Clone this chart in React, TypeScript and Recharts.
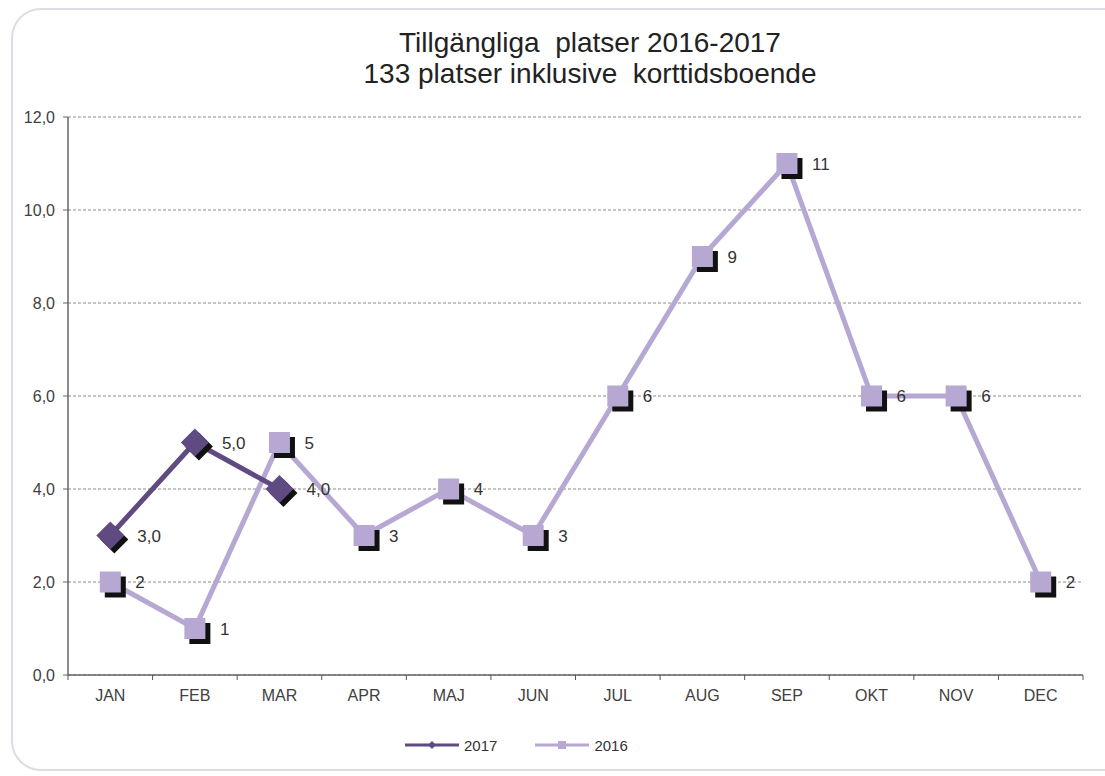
import React from "react";
import {
  LineChart,
  Line,
  XAxis,
  YAxis,
  CartesianGrid,
} from "recharts";

const months = ["JAN", "FEB", "MAR", "APR", "MAJ", "JUN", "JUL", "AUG", "SEP", "OKT", "NOV", "DEC"];
const values2017: (number | null)[] = [3, 5, 4, null, null, null, null, null, null, null, null, null];
const values2016: number[] = [2, 1, 5, 3, 4, 3, 6, 9, 11, 6, 6, 2];
const yTicks = [0, 2, 4, 6, 8, 10, 12];
const titleLines = ["Tillgängliga  platser 2016-2017", "133 platser inklusive  korttidsboende"];
const seriesNames = ["2017", "2016"];

const data = months.map((m, i) => ({ month: m, y2017: values2017[i], y2016: values2016[i] }));

const W = 1105;
const H = 776;
const M = { top: 117, right: 22, bottom: 71, left: 0 };
const YW = 68;
const plotW = W - M.left - M.right - YW;
const STEP = plotW / months.length;

const C2017 = "#5f4b82";
const C2016 = "#b6a8d2";
const SHADOW = "#111111";
const FONT = "'Liberation Sans', Arial, sans-serif";

const fmt1 = (v: number) => v.toFixed(1).replace(".", ",");

const XTick = (props: any) => {
  const { x, y, payload, index } = props;
  const last = index === months.length - 1;
  return (
    <g>
      <line x1={x - STEP / 2} x2={x - STEP / 2} y1={y} y2={y + 5} stroke="#555" strokeWidth={1} />
      {last && <line x1={x + STEP / 2} x2={x + STEP / 2} y1={y} y2={y + 5} stroke="#555" strokeWidth={1} />}
      <text x={x} y={y + 26} textAnchor="middle" fontSize={16} fill="#404040" fontFamily={FONT}>
        {payload.value}
      </text>
    </g>
  );
};

const SquareDot = (props: any) => {
  const { cx, cy, index } = props;
  if (cx == null || cy == null) return <g key={`s${index}`} />;
  const s = 21;
  return (
    <g key={`s${index}`}>
      <rect x={cx - s / 2 + 5} y={cy - s / 2 + 5} width={s} height={s} fill={SHADOW} />
      <rect x={cx - s / 2} y={cy - s / 2} width={s} height={s} fill={C2016} />
    </g>
  );
};

const DiamondDot = (props: any) => {
  const { cx, cy, index } = props;
  if (cx == null || cy == null) return <g key={`d${index}`} />;
  const r = 14;
  const pts = (dx: number, dy: number) =>
    `${cx + dx},${cy + dy - r} ${cx + dx + r},${cy + dy} ${cx + dx},${cy + dy + r} ${cx + dx - r},${cy + dy}`;
  return (
    <g key={`d${index}`}>
      <polygon points={pts(4, 4)} fill={SHADOW} />
      <polygon points={pts(0, 0)} fill={C2017} />
    </g>
  );
};

const label2016 = (p: any) => {
  const { x, y, value, index } = p;
  if (value == null) return <g key={`l6${index}`} />;
  return (
    <text key={`l6${index}`} x={x + 25} y={y + 6} fontSize={17} fill="#333" fontFamily={FONT}>
      {value}
    </text>
  );
};

const label2017 = (p: any) => {
  const { x, y, value, index } = p;
  if (value == null) return <g key={`l7${index}`} />;
  return (
    <text key={`l7${index}`} x={x + 27} y={y + 6} fontSize={17} fill="#333" fontFamily={FONT}>
      {fmt1(value)}
    </text>
  );
};

export default function App() {
  return (
    <div style={{ position: "absolute", left: 0, top: 0, width: W, height: H, overflow: "hidden", background: "#fff", fontFamily: FONT }}>
      <div
        style={{
          position: "absolute",
          left: 11,
          top: 8,
          width: W + 40,
          height: 763,
          border: "2px solid #dcdce6",
          borderRadius: 30,
          boxSizing: "border-box",
        }}
      />
      <div
        style={{
          position: "absolute",
          left: 0,
          top: 27,
          width: 1180,
          textAlign: "center",
          fontSize: 28,
          lineHeight: "31px",
          color: "#222",
          whiteSpace: "pre",
        }}
      >
        {titleLines.map((t) => (
          <div key={t}>{t}</div>
        ))}
      </div>
      <div style={{ position: "absolute", left: 0, top: 0 }}>
        <LineChart width={W} height={H} data={data} margin={M}>
          <CartesianGrid vertical={false} stroke="#8a8a8a" strokeDasharray="3 2" />
          <XAxis
            dataKey="month"
            padding={{ left: STEP / 2, right: STEP / 2 }}
            tickSize={0}
            tickMargin={0}
            height={30}
            tick={<XTick />}
            axisLine={{ stroke: "#666", strokeWidth: 1.5 }}
            interval={0}
          />
          <XAxis xAxisId="top" dataKey="month" orientation="top" height={0} tick={false} tickLine={false} axisLine={{ stroke: "#9a9a9a", strokeWidth: 1.5 }} />
          <YAxis
            domain={[0, 12]}
            ticks={yTicks}
            width={YW}
            tickSize={5}
            tickMargin={8}
            tickFormatter={fmt1}
            tick={{ fontSize: 16, fill: "#404040", fontFamily: FONT }}
            axisLine={{ stroke: "#666", strokeWidth: 1.5 }}
            tickLine={{ stroke: "#666" }}
            interval={0}
          />
          <YAxis yAxisId="r" orientation="right" width={0} domain={[0, 12]} tick={false} tickLine={false} axisLine={{ stroke: "#9a9a9a", strokeWidth: 1.5 }} />
          <Line
            dataKey="y2016"
            name={seriesNames[1]}
            stroke={C2016}
            strokeWidth={5}
            dot={SquareDot}
            activeDot={false}
            label={label2016}
            isAnimationActive={false}
          />
          <Line
            dataKey="y2017"
            name={seriesNames[0]}
            stroke={C2017}
            strokeWidth={5}
            dot={DiamondDot}
            activeDot={false}
            label={label2017}
            connectNulls={false}
            isAnimationActive={false}
          />
        </LineChart>
      </div>
      <div style={{ position: "absolute", left: 405, top: 735, height: 20, display: "flex", alignItems: "center", fontSize: 15, color: "#333" }}>
        <svg width={54} height={20}>
          <line x1={0} x2={54} y1={10} y2={10} stroke={C2017} strokeWidth={3} />
          <polygon points="27,6 31,10 27,14 23,10" fill={C2017} />
        </svg>
        <span style={{ marginLeft: 5 }}>{seriesNames[0]}</span>
        <svg width={54} height={20} style={{ marginLeft: 38 }}>
          <line x1={0} x2={54} y1={10} y2={10} stroke={C2016} strokeWidth={3} />
          <rect x={23} y={6} width={8} height={8} fill={C2016} />
        </svg>
        <span style={{ marginLeft: 5 }}>{seriesNames[1]}</span>
      </div>
    </div>
  );
}
